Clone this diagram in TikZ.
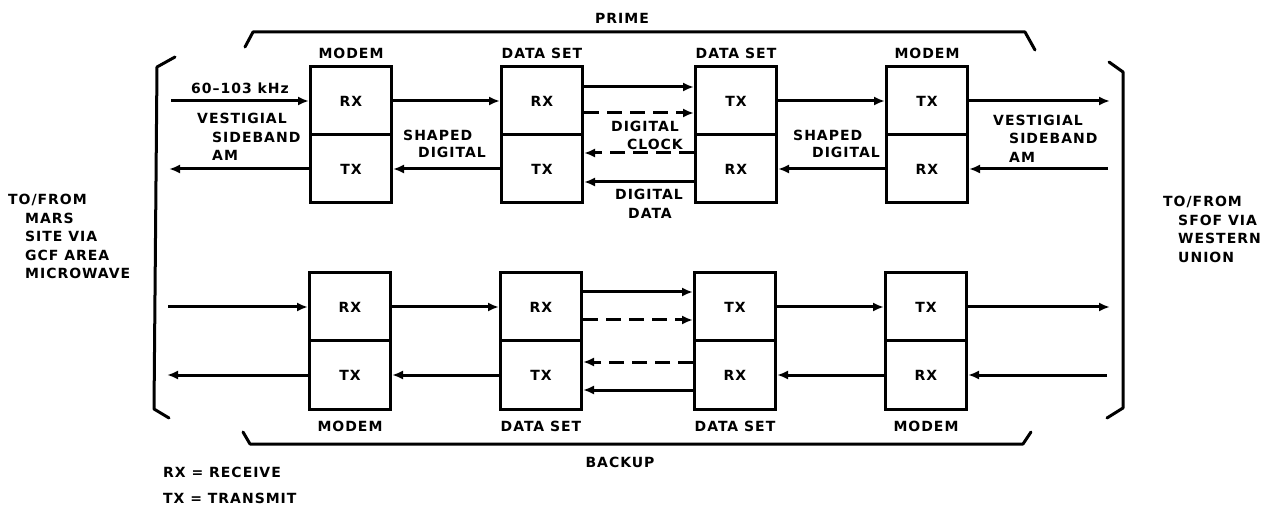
\documentclass[tikz,border=0pt]{standalone}
\usepackage{fontspec}
\setmainfont{DejaVu Sans}[LetterSpace=7]
\usetikzlibrary{arrows.meta}
\begin{document}
\begin{tikzpicture}[x=1pt,y=-1pt,
  every node/.style={font=\fontsize{14}{18.3}\selectfont\bfseries, inner sep=0pt},
  half/.style={draw, line width=3pt, minimum width=81pt, minimum height=68pt},
  arr/.style={line width=3pt, -{Latex[length=11pt,width=9pt]}},
  dsh/.style={dash pattern=on 15pt off 8pt},
  brk/.style={line width=3pt, line join=round, line cap=round},
  lbl/.style={anchor=west}]
\useasboundingbox (0,0) rectangle (1271,510);

% ---------- PRIME row ----------
\node[half] (pm1r) at (351,101) {RX};
\node[half] (pm1t) at (351,169) {TX};
\node[half] (pd1r) at (542,101) {RX};
\node[half] (pd1t) at (542,169) {TX};
\node[half] (pd2t) at (736,101) {TX};
\node[half] (pd2r) at (736,169) {RX};
\node[half] (pm2t) at (927,101) {TX};
\node[half] (pm2r) at (927,169) {RX};

\node (lpm1) at (351,53) {MODEM};
\node (lpd1) at (542,53) {DATA SET};
\node (lpd2) at (736,53) {DATA SET};
\node (lpm2) at (927,53) {MODEM};

\coordinate (pinL) at (171,101);
\coordinate (poutL) at (169,169);
\coordinate (poutR) at (1110,101);
\coordinate (pinR) at (1108,169);

\draw[arr] (pinL) -- (pm1r.west);
\draw[arr] (pm1t.west) -- (poutL);
\draw[arr] (pm1r.east) -- (pd1r.west);
\draw[arr] (pd1t.west) -- (pm1t.east);
\draw[arr] ([yshift=14pt]pd1r.east) -- ([yshift=14pt]pd2t.west);
\draw[arr,dsh] ([yshift=-12pt]pd1r.east) -- ([yshift=-12pt]pd2t.west);
\draw[arr,dsh] ([yshift=16pt]pd2r.west) -- ([yshift=16pt]pd1t.east);
\draw[arr] ([yshift=-13pt]pd2r.west) -- ([yshift=-13pt]pd1t.east);
\draw[arr] (pd2t.east) -- (pm2t.west);
\draw[arr] (pm2r.west) -- (pd2r.east);
\draw[arr] (pm2t.east) -- (poutR);
\draw[arr] (pinR) -- (pm2r.east);

% ---------- BACKUP row ----------
\node[half] (bm1r) at (350,307) {RX};
\node[half] (bm1t) at (350,375) {TX};
\node[half] (bd1r) at (541,307) {RX};
\node[half] (bd1t) at (541,375) {TX};
\node[half] (bd2t) at (735,307) {TX};
\node[half] (bd2r) at (735,375) {RX};
\node[half] (bm2t) at (926,307) {TX};
\node[half] (bm2r) at (926,375) {RX};

\node (lbm1) at (350,426) {MODEM};
\node (lbd1) at (541,426) {DATA SET};
\node (lbd2) at (735,426) {DATA SET};
\node (lbm2) at (926,426) {MODEM};

\coordinate (binL) at (168,307);
\coordinate (boutL) at (167,375);
\coordinate (boutR) at (1110,307);
\coordinate (binR) at (1107,375);

\draw[arr] (binL) -- (bm1r.west);
\draw[arr] (bm1t.west) -- (boutL);
\draw[arr] (bm1r.east) -- (bd1r.west);
\draw[arr] (bd1t.west) -- (bm1t.east);
\draw[arr] ([yshift=15pt]bd1r.east) -- ([yshift=15pt]bd2t.west);
\draw[arr,dsh] ([yshift=-13pt]bd1r.east) -- ([yshift=-13pt]bd2t.west);
\draw[arr,dsh] ([yshift=13pt]bd2r.west) -- ([yshift=13pt]bd1t.east);
\draw[arr] ([yshift=-15pt]bd2r.west) -- ([yshift=-15pt]bd1t.east);
\draw[arr] (bd2t.east) -- (bm2t.west);
\draw[arr] (bm2r.west) -- (bd2r.east);
\draw[arr] (bm2t.east) -- (boutR);
\draw[arr] (binR) -- (bm2r.east);

% ---------- brackets ----------
\draw[brk] (175,57) -- (157,67) -- (154,409) -- (169,418);
\draw[brk] (1109,62) -- (1123,72) -- (1123,408) -- (1107,418);
\draw[brk] (245,47) -- (253,32) -- (1025,32) -- (1035,50);
\draw[brk] (243,432) -- (250,444) -- (1023,444) -- (1031,432);

% ---------- texts ----------
\node (tprime) at (622,18) {PRIME};
\node (tbackup) at (620,462) {BACKUP};
\node (tfreq) at (240,88) {60--103 kHz};

\node[lbl] (vsl1) at (197,118) {VESTIGIAL};
\node[lbl] (vsl2) at (212,137) {SIDEBAND};
\node[lbl] (vsl3) at (212,155) {AM};

\node[lbl] (sd1a) at (403,135) {SHAPED};
\node[lbl] (sd1b) at (418,152) {DIGITAL};

\node[anchor=east] (dc1) at (679,126) {DIGITAL};
\node[anchor=east] (dc2) at (683,144) {CLOCK};
\node (dd1) at (649,194) {DIGITAL};
\node (dd2) at (650,213) {DATA};

\node[lbl] (sd2a) at (793,135) {SHAPED};
\node[lbl] (sd2b) at (812,152) {DIGITAL};

\node[lbl] (vsr1) at (993,120) {VESTIGIAL};
\node[lbl] (vsr2) at (1009,138) {SIDEBAND};
\node[lbl] (vsr3) at (1009,157) {AM};

\node[lbl] (tl1) at (8,200) {TO/FROM};
\node[lbl] (tl2) at (25,218) {MARS};
\node[lbl] (tl3) at (25,236) {SITE VIA};
\node[lbl] (tl4) at (25,255) {GCF AREA};
\node[lbl] (tl5) at (25,273) {MICROWAVE};

\node[lbl] (tr1) at (1163,202) {TO/FROM};
\node[lbl] (tr2) at (1178,220) {SFOF VIA};
\node[lbl] (tr3) at (1178,238) {WESTERN};
\node[lbl] (tr4) at (1178,257) {UNION};

\node[lbl] (lg1) at (163,472) {RX = RECEIVE};
\node[lbl] (lg2) at (163,498) {TX = TRANSMIT};
\end{tikzpicture}
\end{document}
